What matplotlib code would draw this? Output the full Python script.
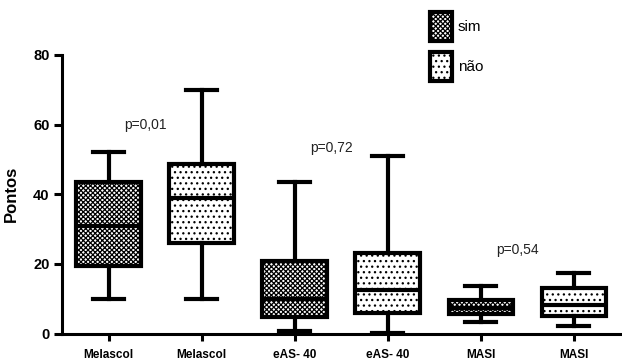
import matplotlib.pyplot as plt
from matplotlib.patches import Patch

plt.rcParams['font.family'] = ['Liberation Sans', 'DejaVu Sans']
plt.rcParams['hatch.linewidth'] = 0.9

# box stats: (whislo, q1, median, q3, whishi)
categories = ['Melascol', 'Melascol', 'eAS- 40', 'eAS- 40', 'MASI', 'MASI']
groups = ['sim', 'não', 'sim', 'não', 'sim', 'não']
whislo = [10, 10, 0.8, 0.3, 3.2, 2.2]
q1 = [19.3, 25.9, 4.8, 6.0, 5.5, 5.0]
med = [31.0, 38.8, 9.8, 12.5, 7.2, 8.2]
q3 = [43.5, 48.6, 20.8, 23.0, 9.6, 13.0]
whishi = [52, 70, 43.6, 51, 13.6, 17.3]
pvalues = ['p=0,01', 'p=0,72', 'p=0,54']
p_y = [60, 53.3, 24]

hatches = {'sim': 'xxxxxxx', 'não': '...'}

fig = plt.figure(figsize=(6.22, 3.61), dpi=100)
ax = fig.add_axes([0.0997, 0.076, 0.8973, 0.772])

stats = []
for i in range(len(categories)):
    stats.append({'whislo': whislo[i], 'q1': q1[i], 'med': med[i],
                  'q3': q3[i], 'whishi': whishi[i], 'fliers': []})

lw = 3.0
bp = ax.bxp(stats, positions=range(len(categories)), widths=0.69,
            patch_artist=True, showfliers=False,
            boxprops=dict(linewidth=lw, edgecolor='black'),
            medianprops=dict(color='black', linewidth=lw),
            whiskerprops=dict(color='black', linewidth=lw),
            capprops=dict(color='black', linewidth=lw),
            capwidths=0.33)
for box, g in zip(bp['boxes'], groups):
    box.set_facecolor('white')
    box.set_hatch(hatches[g])

for k, txt in enumerate(pvalues):
    ax.text(2 * k + 0.40, p_y[k], txt, ha='center', va='center',
            fontsize=10, color='#222222')

ax.set_xlim(-0.5, 5.5)
ax.set_ylim(0, 80)
ax.set_yticks([0, 20, 40, 60, 80])
ax.set_xticks(range(len(categories)))
ax.set_xticklabels(categories, fontsize=8.5, fontweight='bold')
for lab in ax.get_yticklabels():
    lab.set_fontweight('bold')
    lab.set_fontsize(10.5)
ax.set_ylabel('Pontos', fontsize=12, fontweight='bold', labelpad=10)

for s in ['top', 'right']:
    ax.spines[s].set_visible(False)
for s in ['left', 'bottom']:
    ax.spines[s].set_linewidth(2.2)
ax.tick_params(axis='y', width=2.2, length=6, pad=3)
ax.tick_params(axis='x', width=2.2, length=5, pad=6)

handles = [Patch(facecolor='white', edgecolor='black', linewidth=3,
                 hatch=hatches['sim'], label='sim'),
           Patch(facecolor='white', edgecolor='black', linewidth=3,
                 hatch=hatches['não'], label='não')]
ax.legend(handles=handles, loc='upper left', frameon=False,
          bbox_to_anchor=(424 / 622, 1 - 6 / 361), bbox_transform=fig.transFigure,
          fontsize=11, handlelength=1.45, handleheight=2.5,
          labelspacing=0.75, handletextpad=0.35, borderaxespad=0)

fig.savefig('out.png', dpi=100)
